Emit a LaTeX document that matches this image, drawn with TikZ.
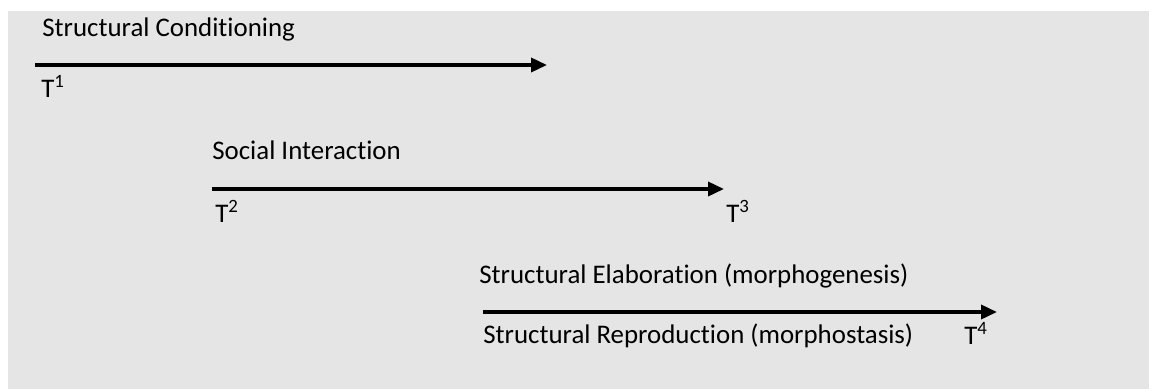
\documentclass[tikz,border=0pt]{standalone}
\usepackage{fontspec}
\setmainfont{Carlito}[Ligatures=NoCommon]
\usetikzlibrary{arrows.meta}
\definecolor{bggray}{HTML}{E5E5E5}
\begin{document}
\begin{tikzpicture}[x=0.02cm,y=-0.02cm,
  lbl/.style={anchor=base west,inner sep=0pt,font=\fontsize{15.3}{18}\selectfont},
  timeline/.style={line width=2pt,-{Triangle[length=0.32cm,width=0.28cm]}}]
\useasboundingbox (0,0) rectangle (1149,389);
\fill[bggray] (8,11) rectangle (1149,389);
\coordinate (A1) at (35,65);
\coordinate (B1) at (547,65);
\coordinate (A2) at (212,189);
\coordinate (B2) at (724,189);
\coordinate (A3) at (483,312);
\coordinate (B3) at (997,312);
\node[lbl] (cond) at (42,36) {Structural Conditioning};
\node[lbl] (social) at (212,159) {Social Interaction};
\node[lbl] (elab) at (479,283) {Structural Elaboration (morphogenesis)};
\node[lbl] (repro) at (483,343) {Structural Reproduction (morphostasis)};
\node[lbl] (t1) at (41,97) {T\textsuperscript{1}};
\node[lbl] (t2) at (215,222) {T\textsuperscript{2}};
\node[lbl] (t3) at (726,222) {T\textsuperscript{3}};
\node[lbl] (t4) at (964,344) {T\textsuperscript{4}};
\draw[timeline] (A1)--(B1);
\draw[timeline] (A2)--(B2);
\draw[timeline] (A3)--(B3);
\end{tikzpicture}
\end{document}
